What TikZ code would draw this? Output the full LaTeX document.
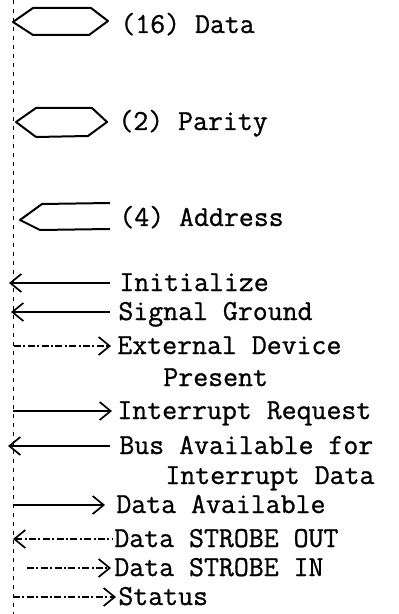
\documentclass[tikz,border=0pt]{standalone}
\usepackage{fontspec}
\newfontfamily\typewriter{Latin Modern Mono}[FakeBold=0.9]
\usetikzlibrary{arrows.meta}
\begin{document}
\begin{tikzpicture}[x=0.5pt,y=-0.5pt,
  >={Straight Barb[length=5.5pt,width=9pt,line width=0.85pt]},
  lbl/.style={font=\typewriter\fontsize{14.5pt}{16pt}\selectfont, inner sep=0pt, anchor=base west},
  busshape/.style={line width=1pt, line join=round},
  sig/.style={line width=0.7pt},
  sigdash/.style={sig, dash pattern=on 3.5pt off 1.2pt on 1pt off 1.2pt},
  rail/.style={line width=0.45pt, dash pattern=on 2pt off 2.5pt}
]
\useasboundingbox (0,0) rectangle (398,614);

% left-hand rail
\coordinate (railtop) at (13,0);
\coordinate (railbot) at (13,614);
\draw[rail] (railtop) -- (railbot);

% multi-wire buses
\draw[busshape] (13,22) -- (33,8) -- (91,8) -- (108,21) -- (89,35) -- (33,35) -- cycle;
\node[lbl] (data) at (120,33) {(16) Data};

\draw[busshape] (16,122) -- (36,108) -- (92,108) -- (107,122) -- (88,136) -- (36,137) -- cycle;
\node[lbl] (parity) at (118,130) {(2) Parity};

\draw[busshape] (110,203) -- (42,204) -- (20,220) -- (40,230) -- (110,229);
\node[lbl] (addr) at (119,226) {(4) Address};

% single lines
\coordinate (initL) at (9,283);
\node[lbl] (init) at (119,291) {Initialize};
\draw[sig,<-,shorten >=4.5pt] (initL) -- (initL -| init.west);

\coordinate (gndL) at (11,312);
\node[lbl] (gnd) at (118,320) {Signal Ground};
\draw[sig,<-,shorten >=4pt] (gndL) -- (gndL -| gnd.west);

\coordinate (extL) at (14,346);
\node[lbl] (ext) at (117,354) {External Device};
\node[lbl] (ext2) at (163,386) {Present};
\draw[sigdash,->,shorten >=3pt] (extL) -- (extL -| ext.west);

\coordinate (irqL) at (13,411);
\node[lbl] (irq) at (117,419) {Interrupt Request};
\draw[sig,->,shorten >=2.5pt] (irqL) -- (irqL -| irq.west);

\coordinate (busL) at (8,446);
\node[lbl] (bus) at (119,454) {Bus Available for};
\node[lbl] (bus2) at (165,484) {Interrupt Data};
\draw[sig,<-,shorten >=4.5pt] (busL) -- (busL -| bus.west);

\coordinate (davL) at (13,505);
\node[lbl] (dav) at (116,513) {Data Available};
\draw[sig,->,shorten >=5.5pt] (davL) -- (davL -| dav.west);

\coordinate (soutL) at (13,539);
\node[lbl] (sout) at (114,547) {Data STROBE OUT};
\draw[sigdash,<-,shorten >=1pt] (soutL) -- (soutL -| sout.west);

\coordinate (sinL) at (27,568);
\node[lbl] (sin) at (114,576) {Data STROBE IN};
\draw[sigdash,->,shorten >=1.5pt] (sinL) -- (sinL -| sin.west);

\coordinate (statL) at (13,597);
\node[lbl] (stat) at (118,605) {Status};
\draw[sigdash,->,shorten >=1pt] (statL) -- (statL -| stat.west);
\end{tikzpicture}
\end{document}
